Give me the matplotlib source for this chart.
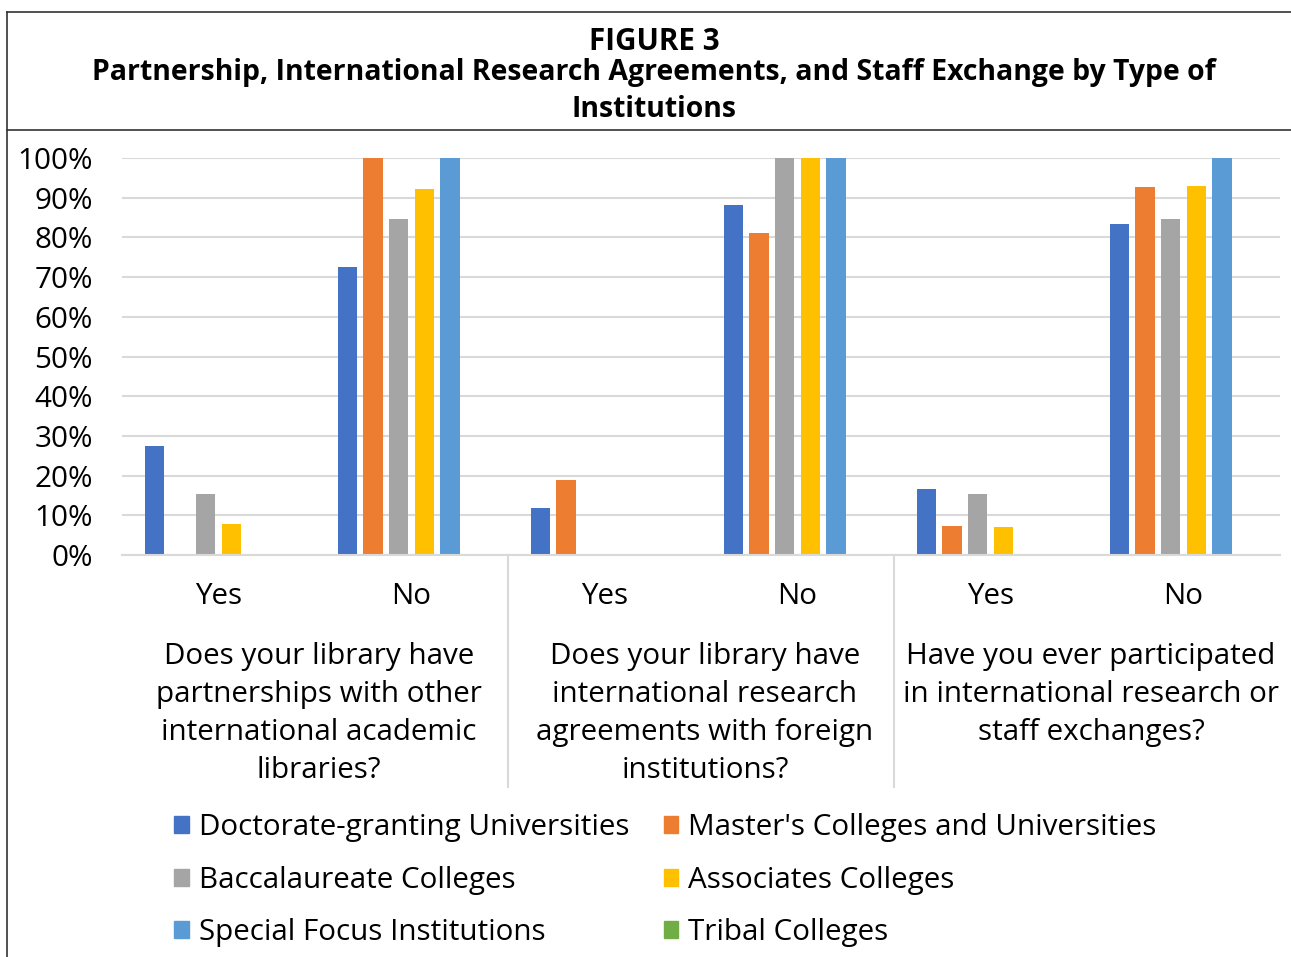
import matplotlib
matplotlib.use("Agg")
import matplotlib.pyplot as plt
from matplotlib.patches import Patch
from matplotlib.lines import Line2D
from matplotlib.ticker import PercentFormatter, MultipleLocator
from matplotlib.transforms import blended_transform_factory, offset_copy

plt.rcParams['font.family'] = ['Open Sans', 'DejaVu Sans']

W, H = 1291, 957  # output size in pixels (dpi 100)

# Institution types (series) and their Office-style colours
series = ["Doctorate-granting Universities", "Master's Colleges and Universities",
          "Baccalaureate Colleges", "Associates Colleges",
          "Special Focus Institutions", "Tribal Colleges"]
colors = ['#4472C4', '#ED7D31', '#A5A5A5', '#FFC000', '#5B9BD5', '#70AD47']

# Inner category level (answers) and outer level (questions)
answers = ["Yes", "No", "Yes", "No", "Yes", "No"]
questions = ["Does your library have\npartnerships with other\ninternational academic\nlibraries?",
             "Does your library have\ninternational research\nagreements with foreign\ninstitutions?",
             "Have you ever participated\nin international research or\nstaff exchanges?"]

# Percent of respondents, in the order of `answers`
doctorate = [27.5, 72.5, 11.9, 88.1, 16.5, 83.5]
masters = [0, 100, 19.0, 81.0, 7.4, 92.6]
baccalaureate = [15.4, 84.6, 0, 100, 15.4, 84.6]
associates = [7.7, 92.3, 0, 100, 7.1, 92.9]
special_focus = [0, 100, 0, 100, 0, 100]
tribal = [0, 0, 0, 0, 0, 0]
values = [doctorate, masters, baccalaureate, associates, special_focus, tribal]

FS = 21.3  # body text size
TS = 20.4  # title size


def fx(px):
    return px / W


def fy(py):
    return 1 - py / H


fig = plt.figure(figsize=(W / 100, H / 100), dpi=100)
ax = fig.add_axes([fx(122), fy(555), fx(1280) - fx(122), fy(158) - fy(555)])

# Clustered bars, six slots per answer
slot = 0.1326
bar_w = 0.1
for i, (name, vals, c) in enumerate(zip(series, values, colors)):
    xs = [k + (i - 2.5) * slot for k in range(len(answers))]
    ax.bar(xs, vals, width=bar_w, color=c, label=name, zorder=3)

ax.set_xlim(-0.5, len(answers) - 0.5)
ax.set_ylim(0, 100)
ax.yaxis.set_major_locator(MultipleLocator(10))
ax.yaxis.set_major_formatter(PercentFormatter(100, decimals=0))
ax.tick_params(axis='y', length=0, pad=21, labelsize=FS)
ax.set_xticks([])
ax.grid(axis='y', color='#d9d9d9', linewidth=1.5, zorder=0)
for s in ['top', 'right', 'left']:
    ax.spines[s].set_visible(False)
ax.spines['bottom'].set_color('#d9d9d9')
ax.spines['bottom'].set_linewidth(1.5)
ax.spines['bottom'].set_zorder(4)

# Two-level category axis drawn below the plot
trans = blended_transform_factory(ax.transData, fig.transFigure)
for k, a in enumerate(answers):
    ax.text(k, fy(604), a, transform=trans, ha='center', va='baseline', fontsize=FS)

qtrans = offset_copy(trans, fig=fig, x=4, y=0, units='dots')
for g, q in enumerate(questions):
    for j, line in enumerate(q.split('\n')):
        ax.text(2 * g + 0.5, fy(664 + 38 * j), line, transform=qtrans,
                ha='center', va='baseline', fontsize=FS)

for xsep in [1.5, 3.5]:
    ax.plot([xsep, xsep], [fy(555), fy(787)], transform=trans, clip_on=False,
            color='#d9d9d9', linewidth=1.5)

# Title block
fig.text(fx(654), fy(50), "FIGURE 3", ha='center', va='baseline', fontsize=FS, weight='bold')
fig.text(fx(654), fy(80), "Partnership, International Research Agreements, and Staff Exchange by Type of",
         ha='center', va='baseline', fontsize=TS, weight='bold')
fig.text(fx(654), fy(117), "Institutions", ha='center', va='baseline', fontsize=TS, weight='bold')

# Frame lines
frame = dict(color='#333333', linewidth=1.2)
fig.add_artist(Line2D([fx(7), fx(7)], [fy(12), 0], **frame))
fig.add_artist(Line2D([fx(7), 1], [fy(12), fy(12)], **frame))
fig.add_artist(Line2D([fx(7), 1], [fy(130), fy(130)], **frame))

# Legend, row-major like the original (matplotlib fills column by column)
handles = [Patch(color=c) for c in colors]
order = [0, 2, 4, 1, 3, 5]
fig.legend([handles[i] for i in order], [series[i] for i in order], ncol=2,
           loc='upper left', bbox_to_anchor=(fx(174), fy(813)), frameon=False,
           fontsize=FS, handlelength=0.5, handleheight=0.5, handletextpad=0.33,
           columnspacing=1.17, labelspacing=0.8, borderpad=0, borderaxespad=0)

fig.savefig("out.png", dpi=100)
